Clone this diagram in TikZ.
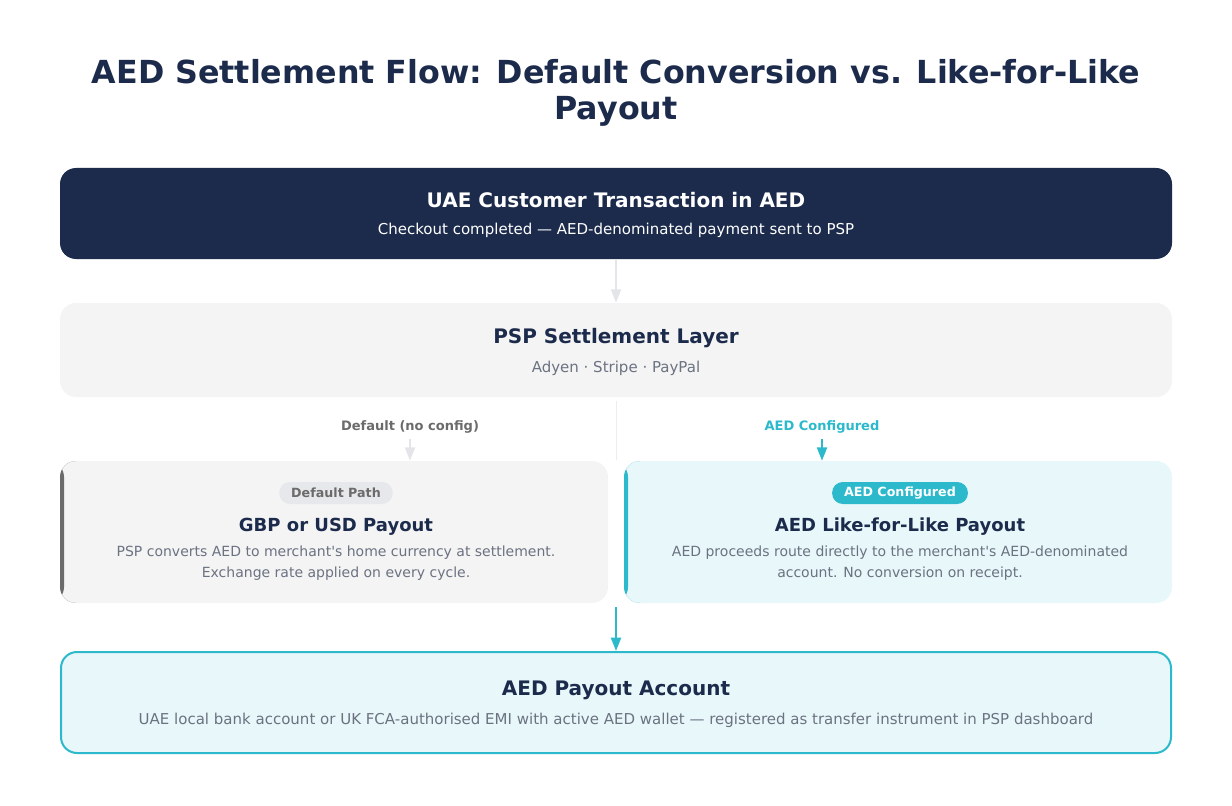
\documentclass[tikz,border=0pt]{standalone}
\usepackage{fontspec}
\setmainfont{DejaVu Sans}
\usetikzlibrary{positioning, arrows.meta, calc}

\definecolor{navy}{HTML}{1C2B4B}
\definecolor{aedteal}{HTML}{2BB9CB}
\definecolor{panelgray}{HTML}{F4F4F5}
\definecolor{tealfill}{HTML}{E8F8FA}
\definecolor{subgray}{HTML}{6B7280}
\definecolor{arrowgray}{HTML}{E3E5E8}
\definecolor{bargray}{HTML}{6B6B6B}
\definecolor{pillgray}{HTML}{E6E8EB}

\tikzset{
    box/.style={rectangle, rounded corners=12pt, inner sep=0pt, minimum width=834pt},
    halfbox/.style={box, minimum width=411pt, minimum height=106.5pt},
    leftbar/.style={path picture={\fill[#1] (path picture bounding box.south west)
        rectangle ([xshift=3pt]path picture bounding box.north west);}},
    heading/.style={font=\bfseries\fontsize{15}{18}\selectfont, text=navy},
    subline/.style={font=\fontsize{11.25}{14}\selectfont, text=subgray},
    body/.style={font=\fontsize{10.5}{15.75}\selectfont, text=subgray, align=center},
    pill/.style={rectangle, rounded corners=8pt, minimum height=16.5pt, inner xsep=9pt,
        font=\bfseries\fontsize{9.5}{11}\selectfont},
    flow/.style={-{Triangle[length=10pt, width=7.5pt]}, line width=1.5pt},
}

\begin{document}
\begin{tikzpicture}[x=0.75pt, y=-0.75pt]
    \useasboundingbox (0,0) rectangle (1232,806);
    % --- title ---
    \node[font=\bfseries\fontsize{23.8}{27}\selectfont, text=navy, align=center] (title) at (616,93)
        {AED Settlement Flow: Default Conversion vs. Like-for-Like\\Payout};
    % --- customer transaction ---
    \node[box, fill=navy, minimum height=68.25pt] (cust) at (616,213.5) {};
    \node[heading, text=white] (custhead) at (616,200) {UAE Customer Transaction in AED};
    \node[subline, text=white] (custsub) at (616,230) {Checkout completed — AED-denominated payment sent to PSP};
    % --- PSP layer ---
    \node[box, fill=panelgray, minimum height=70.5pt] (psp) at (616,350) {};
    \node[heading] (psphead) at (616,338) {PSP Settlement Layer};
    \node[subline] (pspsub) at (616,368) {Adyen · Stripe · PayPal};
    \draw[flow, arrowgray] (cust.south) -- (psp.north);
    % --- branch labels ---
    \coordinate (split) at (616,460);
    \draw[arrowgray!70, line width=0.75pt] (psp.south) ++(0,-3pt) -- (split);
    \node[font=\bfseries\fontsize{9.75}{12}\selectfont, text=bargray] (deflabel) at (410,427) {Default (no config)};
    \node[font=\bfseries\fontsize{9.75}{12}\selectfont, text=aedteal] (aedlabel) at (822,427) {AED Configured};
    % --- default path ---
    \node[halfbox, fill=panelgray, leftbar=bargray] (defbox) at (334,532) {};
    \node[pill, fill=pillgray, text=bargray] (defpill) at (336,493) {Default Path};
    \node[heading, font=\bfseries\fontsize{13.5}{16}\selectfont] (defhead) at (336,527) {GBP or USD Payout};
    \node[body] (deftext) at (336,563.5) {PSP converts AED to merchant\textquotesingle s home currency at settlement.\\Exchange rate applied on every cycle.};
    \draw[flow, arrowgray] (deflabel.south) ++(0,-1pt) -- (deflabel.south |- defbox.north);
    % --- AED path ---
    \node[halfbox, fill=tealfill, leftbar=aedteal] (aedbox) at (898,532) {};
    \node[pill, fill=aedteal, text=white] (aedpill) at (900,493) {AED Configured};
    \node[heading, font=\bfseries\fontsize{13.5}{16}\selectfont] (aedhead) at (900,527) {AED Like-for-Like Payout};
    \node[body] (aedtext) at (900,563.5) {AED proceeds route directly to the merchant\textquotesingle s AED-denominated\\account. No conversion on receipt.};
    \draw[flow, aedteal] (aedlabel.south) ++(0,-1pt) -- (aedlabel.south |- aedbox.north);
    % --- payout account ---
    \node[box, fill=tealfill, draw=aedteal, line width=1.5pt, minimum width=832.5pt, minimum height=75.75pt] (acct) at (616,702.5) {};
    \node[heading] (accthead) at (616,690) {AED Payout Account};
    \node[subline] (acctsub) at (616,720) {UAE local bank account or UK FCA-authorised EMI with active AED wallet — registered as transfer instrument in PSP dashboard};
    \coordinate (merge) at (616,607);
    \draw[flow, aedteal] (merge) -- (acct.north);
\end{tikzpicture}
\end{document}
